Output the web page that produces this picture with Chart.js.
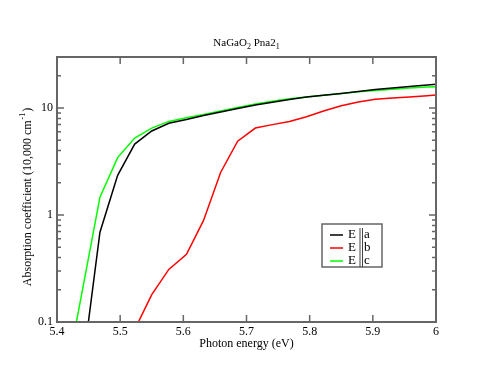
<!DOCTYPE html>
<html>
<head>
<meta charset="utf-8">
<script src="https://cdn.jsdelivr.net/npm/chart.js@4/dist/chart.umd.min.js"></script>
<style>
	body { margin: 0; background: #fff; }
	canvas { display: block; }
</style>
</head>
<body>
<canvas id="absChart" width="491" height="379"></canvas>
<script>
// photon energy (eV) and absorption (10,000 cm^-1) for the three polarisations
var energy = [5.414, 5.441, 5.468, 5.496, 5.523, 5.550, 5.577, 5.605, 5.632, 5.659, 5.686, 5.714,
	5.741, 5.768, 5.795, 5.822, 5.850, 5.877, 5.904, 5.931, 5.958, 5.986, 6.013];
var absA = [0.01, 0.04, 0.69, 2.35, 4.6, 6.1, 7.2, 7.8, 8.5, 9.2, 9.9, 10.7,
	11.3, 12.0, 12.7, 13.2, 13.7, 14.3, 14.9, 15.4, 15.9, 16.4, 16.9];
var absB = [null, null, null, null, 0.085, 0.18, 0.31, 0.43, 0.89, 2.5, 4.9, 6.5,
	7.0, 7.5, 8.3, 9.4, 10.5, 11.4, 12.1, 12.4, 12.7, 13.0, 13.4];
var absC = [0.03, 0.21, 1.47, 3.44, 5.25, 6.5, 7.5, 8.1, 8.7, 9.4, 10.1, 10.9,
	11.6, 12.2, 12.7, 13.2, 13.7, 14.2, 14.6, 15.0, 15.4, 15.7, 16.0];
var seriesNames = ['E\u2016a', 'E\u2016b', 'E\u2016c'];
var seriesColors = ['#000000', '#ff0000', '#00ff00'];
var xTicks = [5.4, 5.5, 5.6, 5.7, 5.8, 5.9, 6];
var yMajor = [0.1, 1, 10];
var yMinor = [0.2, 0.3, 0.4, 0.5, 0.6, 0.7, 0.8, 0.9, 2, 3, 4, 5, 6, 7, 8, 9, 20, 30];

var serif = '"Liberation Serif", "DejaVu Serif", serif';

function toPoints(vals) {
	return energy.map(function(e, i) { return {x: e, y: vals[i]}; });
}

// frame, inward ticks, legend and titles (grace style)
var decor = {
	id: 'decor',
	afterDraw: function(chart) {
		var ctx = chart.ctx;
		var a = chart.chartArea;
		var xs = chart.scales.x, ys = chart.scales.y;
		ctx.save();
		ctx.strokeStyle = '#666';
		ctx.lineWidth = 2;
		ctx.strokeRect(a.left, a.top, a.right - a.left, a.bottom - a.top);

		ctx.lineWidth = 1.5;
		ctx.beginPath();
		xTicks.forEach(function(v) {
			var px = xs.getPixelForValue(v);
			ctx.moveTo(px, a.bottom); ctx.lineTo(px, a.bottom - 7);
			ctx.moveTo(px, a.top); ctx.lineTo(px, a.top + 7);
		});
		yMajor.forEach(function(v) {
			var py = ys.getPixelForValue(v);
			ctx.moveTo(a.left, py); ctx.lineTo(a.left + 7, py);
			ctx.moveTo(a.right, py); ctx.lineTo(a.right - 7, py);
		});
		yMinor.forEach(function(v) {
			var py = ys.getPixelForValue(v);
			ctx.moveTo(a.left, py); ctx.lineTo(a.left + 4, py);
			ctx.moveTo(a.right, py); ctx.lineTo(a.right - 4, py);
		});
		ctx.stroke();

		// legend box
		ctx.lineWidth = 1.5;
		ctx.strokeStyle = '#666';
		ctx.strokeRect(322, 224, 60, 43);
		ctx.font = '13px ' + serif;
		ctx.textBaseline = 'middle';
		ctx.textAlign = 'left';
		for (var i = 0; i < seriesNames.length; i++) {
			var ry = 235 + i * 13;
			var name = seriesNames[i].split('\u2016');
			ctx.strokeStyle = seriesColors[i];
			ctx.lineWidth = 1.5;
			ctx.beginPath();
			ctx.moveTo(330, ry); ctx.lineTo(343, ry);
			ctx.stroke();
			ctx.fillStyle = '#000';
			ctx.fillText(name[0], 348, ry);
			ctx.fillText(name[1], 364, ry);
		}
		// the parallel bars run through all rows
		ctx.strokeStyle = '#444';
		ctx.lineWidth = 1;
		ctx.beginPath();
		ctx.moveTo(360, 228); ctx.lineTo(360, 267);
		ctx.moveTo(362.5, 228); ctx.lineTo(362.5, 267);
		ctx.stroke();

		// title with subscripts
		ctx.fillStyle = '#000';
		ctx.textBaseline = 'alphabetic';
		var parts = [['NaGaO', 0], ['2', 1], [' Pna2', 0], ['1', 1]];
		var widths = parts.map(function(p) {
			ctx.font = (p[1] ? '8px ' : '11px ') + serif;
			return ctx.measureText(p[0]).width;
		});
		var total = widths.reduce(function(s, w) { return s + w; }, 0);
		var tx = (a.left + a.right) / 2 - total / 2;
		parts.forEach(function(p, k) {
			ctx.font = (p[1] ? '8px ' : '11px ') + serif;
			ctx.fillText(p[0], tx, p[1] ? 49 : 46);
			tx += widths[k];
		});

		// x axis title
		ctx.font = '12px ' + serif;
		ctx.textAlign = 'center';
		ctx.fillText('Photon energy (eV)', (a.left + a.right) / 2, 347);

		// y axis title with superscript
		ctx.translate(31, 198);
		ctx.rotate(-Math.PI / 2);
		var main = 'Absorption coefficient (10,000 cm';
		ctx.font = '12px ' + serif;
		var w1 = ctx.measureText(main).width;
		ctx.font = '8px ' + serif;
		var w2 = ctx.measureText('-1').width;
		ctx.font = '12px ' + serif;
		var w3 = ctx.measureText(')').width;
		var sx = -(w1 + w2 + w3) / 2;
		ctx.textAlign = 'left';
		ctx.fillText(main, sx, 0);
		ctx.font = '8px ' + serif;
		ctx.fillText('-1', sx + w1 + 1, -6);
		ctx.font = '12px ' + serif;
		ctx.fillText(')', sx + w1 + w2 + 2, 0);
		ctx.restore();
	}
};

new Chart('absChart', {
	type: 'line',
	data: {
		datasets: [absA, absB, absC].map(function(vals, i) {
			return {
				label: seriesNames[i],
				data: toPoints(vals),
				borderColor: seriesColors[i],
				backgroundColor: seriesColors[i],
				borderWidth: 1.5,
				pointRadius: 0,
				tension: 0,
				spanGaps: false
			};
		})
	},
	options: {
		responsive: false,
		animation: false,
		devicePixelRatio: 1,
		layout: {padding: {left: 0, top: 57, right: 55, bottom: 0}},
		plugins: {
			legend: {display: false},
			title: {display: false},
			tooltip: {enabled: false}
		},
		scales: {
			x: {
				type: 'linear',
				min: 5.4,
				max: 6,
				grid: {display: false, drawTicks: false},
				border: {display: false},
				afterFit: function(s) { s.height = 57; },
				afterBuildTicks: function(s) { s.ticks = xTicks.map(function(v) { return {value: v}; }); },
				ticks: {
					maxRotation: 0,
					autoSkip: false,
					padding: 3,
					color: '#000',
					font: {family: serif, size: 12},
					callback: function(v) { return String(Math.round(v * 10) / 10); }
				}
			},
			y: {
				type: 'logarithmic',
				min: 0.1,
				max: 30,
				grid: {display: false, drawTicks: false},
				border: {display: false},
				afterFit: function(s) { s.width = 57; },
				afterBuildTicks: function(s) { s.ticks = yMajor.map(function(v) { return {value: v}; }); },
				ticks: {
					autoSkip: false,
					padding: 4,
					color: '#000',
					font: {family: serif, size: 12},
					callback: function(v) { return String(v); }
				}
			}
		}
	},
	plugins: [decor]
});
</script>
</body>
</html>
